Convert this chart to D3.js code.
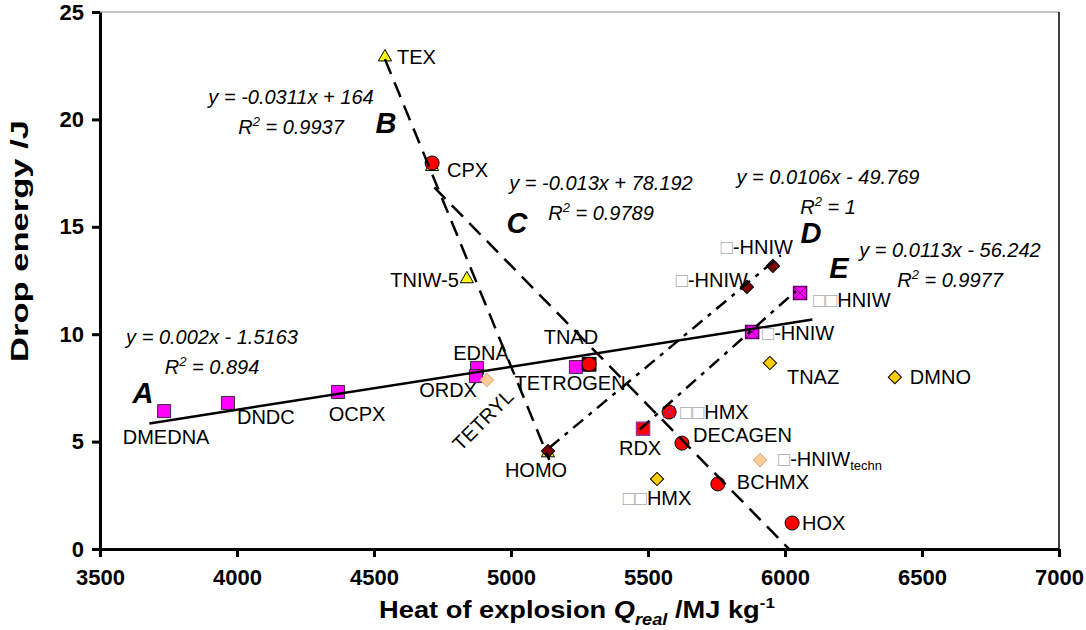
<!DOCTYPE html>
<html>
<head>
<meta charset="utf-8">
<script src="https://cdn.jsdelivr.net/npm/d3@7"></script>
<style>
body { margin: 0; background: #fff; }
svg { font-family: "Liberation Sans", Arial, sans-serif; }
</style>
</head>
<body>
<svg width="1086" height="630"></svg>
<script>
// ---- data (Q_real in MJ/kg, drop energy in J) ----
// A: magenta squares
var sqNames = ["DMEDNA", "DNDC", "OCPX", "EDNA", "ORDX", "TNAD"];
var sqQ = [3734, 3967, 4369, 4876, 4872, 5237];
var sqE = [6.42, 6.80, 7.31, 8.43, 8.05, 8.47];
// B: yellow triangles
var triNames = ["TEX", "CPX", "TNIW-5", "HOMO"];
var triQ = [4540, 4712, 4839, 5135];
var triE = [22.9, 17.8, 12.57, 4.47];
// C: red circles
var circNames = ["CPX", "TETROGEN", "□□HMX", "DECAGEN", "BCHMX", "HOX"];
var circQ = [4712, 5285, 5577, 5624, 5755, 6026];
var circE = [17.97, 8.6, 6.38, 4.93, 3.03, 1.21];
// D: dark red diamonds
var dmdNames = ["HOMO", "□-HNIW", "□-HNIW"];
var dmdQ = [5135, 5861, 5956];
var dmdE = [4.56, 12.2, 13.18];
// E: crossed squares
var xsqNames = ["RDX", "□□HMX", "□-HNIW", "□□HNIW"];
var xsqQ = [5482, 5577, 5880, 6055];
var xsqE = [5.6, 6.38, 10.1, 11.92];
// other compounds
var goldNames = ["□□HMX", "TNAZ", "DMNO"];
var goldQ = [5533, 5945, 6401];
var goldE = [3.26, 8.66, 8.0];
var tanNames = ["TETRYL", "□-HNIW_techn"];
var tanQ = [4912, 5909];
var tanE = [7.87, 4.14];
var darkQ = [5285];
var darkE = [8.6];

// trend lines y = m*x + b
var trendIds = ["A", "B", "C", "D", "E"];
var trendM = [0.002, -0.0311, -0.013, 0.0106, 0.0113];
var trendB = [-1.5163, 164, 78.192, -49.769, -56.242];
var trendFrom = [3680, 4540, 4720, 5140, 5470];
var trendTo = [6100, 5140, 6015, 5985, 6040];
var trendEq = ["y = 0.002x - 1.5163", "y = -0.0311x + 164", "y = -0.013x + 78.192",
               "y = 0.0106x - 49.769", "y = 0.0113x - 56.242"];
var trendR2 = ["0.894", "0.9937", "0.9789", "1", "0.9977"];

var xTicks = [3500, 4000, 4500, 5000, 5500, 6000, 6500, 7000];
var yTicks = [0, 5, 10, 15, 20, 25];

// ---- layout ----
var svg = d3.select("svg");
var x = d3.scaleLinear().domain([3500, 7000]).range([100, 1059]);
var y = d3.scaleLinear().domain([0, 25]).range([549, 12]);

var trendDash = ["none", "16,9", "16,9", "13,7,4,7", "13,7,4,7"];
// equation block centres and big letters (pixels)
var eqPos = [[212, 337, 143, 393], [291, 97, 386, 123], [601, 183, 517, 223],
             [828, 177, 811, 233], [950, 250, 839, 268]];

// label offsets from the marker: dx, dy, anchor, rotation
var labelPos = {
  "sq0": [2, 26, "middle"], "sq1": [9, 14, "start"], "sq2": [19, 22, "middle"],
  "sq3": [4, -15, "middle"], "sq4": [1, 14, "end"], "sq5": [-5, -30, "middle"],
  "tri0": [12, 0, "start"], "tri2": [-8, 1, "end"],
  "circ0": [15, 7, "start"], "circ1": [-19, 19, "middle"], "circ2": [11, 0, "start"],
  "circ3": [11, -8, "start"], "circ4": [19, -2, "start"], "circ5": [10, 0, "start"],
  "dmd0": [-12, 19, "middle"], "dmd1": [1, -7, "end"], "dmd2": [20, -19, "end"],
  "xsq0": [-3, 19, "middle"], "xsq2": [10, 1, "start"], "xsq3": [13, 7, "start"],
  "gold0": [0, 19, "middle"], "gold1": [17, 14, "start"], "gold2": [15, 0, "start"],
  "tan0": [-4, 40, "middle", -45], "tan1": [18, -1, "start"]
};

// frame
svg.append("line").attr("x1", 100).attr("x2", 1059).attr("y1", 12).attr("y2", 12)
    .attr("stroke", "#888").attr("stroke-width", 1);
svg.append("line").attr("x1", 1059).attr("x2", 1059).attr("y1", 12).attr("y2", 549)
    .attr("stroke", "#000").attr("stroke-width", 1.5);

// axes
var gx = svg.append("g").attr("transform", "translate(0,549)")
    .call(d3.axisBottom(x).tickValues(xTicks).tickFormat(d3.format("d"))
        .tickSize(8).tickSizeOuter(0).tickPadding(12));
var gy = svg.append("g").attr("transform", "translate(100,0)")
    .call(d3.axisLeft(y).tickValues(yTicks).tickSize(8).tickSizeOuter(0).tickPadding(8));
[gx, gy].forEach(function (g) {
  g.select(".domain").attr("stroke-width", 3);
  g.selectAll(".tick line").attr("stroke-width", 3);
  g.selectAll(".tick text").attr("font-size", 22).attr("font-weight", "bold")
      .attr("font-family", "'Liberation Sans', Arial, sans-serif").attr("fill", "#000");
});

// markers
var sym = d3.symbol();
function drawPoints(qs, es, shape, size, fill, stroke, sw, rot) {
  svg.append("g").selectAll("path")
    .data(qs)
    .enter().append("path")
      .attr("d", sym.type(shape).size(size)())
      .attr("transform", function (d, i) {
        return "translate(" + x(d) + "," + y(es[i]) + ")" + (rot ? " rotate(" + rot + ")" : "");
      })
      .attr("fill", function (d, i) { return Array.isArray(fill) ? fill[i] : fill; })
      .attr("stroke", function (d, i) { return Array.isArray(stroke) ? stroke[i] : stroke; })
      .attr("stroke-width", sw);
}

drawPoints(sqQ, sqE, d3.symbolSquare, 170, "#ff00ff", "#333", 1);
drawPoints(triQ, triE, d3.symbolTriangle, 75, "#ffff00", "#000", 1);
drawPoints(darkQ, darkE, d3.symbolSquare, 190, "#330033", "#000", 1);
drawPoints(circQ, circE, d3.symbolCircle, 155, "#ff0000", "#000", 1);
drawPoints(dmdQ, dmdE, d3.symbolSquare, 88, "#800000", "#000", 1, 45);
drawPoints(goldQ, goldE, d3.symbolSquare, 88, "#ffcc00", "#000", 1, 45);
drawPoints(tanQ, tanE, d3.symbolSquare, 88, "#ffcc99", "#e0b080", 1, 45);
drawPoints(xsqQ, xsqE, d3.symbolSquare, 170,
    ["#ff0000", "none", "#ff00ff", "#ff00ff"], ["#993399", "none", "#660066", "#660066"], 1.5);
// the cross inside the E markers
svg.append("g").selectAll("path")
  .data(xsqQ.slice(1))
  .enter().append("path")
    .attr("d", "M-6,-6L6,6M-6,6L6,-6")
    .attr("transform", function (d, i) { return "translate(" + x(d) + "," + y(xsqE[i + 1]) + ")"; })
    .attr("stroke", function (d, i) { return i === 0 ? "#993399" : "#660066"; })
    .attr("stroke-width", 1)
    .attr("fill", "none");

// trend lines
var line = d3.line().x(function (d) { return x(d[0]); }).y(function (d) { return y(d[1]); });
trendIds.forEach(function (id, i) {
  var pts = [trendFrom[i], trendTo[i]].map(function (q) { return [q, trendM[i] * q + trendB[i]]; });
  svg.append("path")
      .attr("d", line(pts))
      .attr("fill", "none")
      .attr("stroke", "#000")
      .attr("stroke-width", 2.5)
      .attr("stroke-dasharray", trendDash[i]);
});

// equations and series letters
trendIds.forEach(function (id, i) {
  var p = eqPos[i];
  svg.append("text").attr("x", p[0]).attr("y", p[1]).attr("dy", "0.35em")
      .attr("text-anchor", "middle").attr("font-size", 20).attr("font-style", "italic")
      .text(trendEq[i]);
  var r = svg.append("text").attr("x", p[0]).attr("y", p[1] + 30).attr("dy", "0.35em")
      .attr("text-anchor", "middle").attr("font-size", 20).attr("font-style", "italic");
  r.append("tspan").text("R");
  r.append("tspan").attr("font-size", 13).attr("dy", -8).text("2");
  r.append("tspan").attr("dy", 8).text("  = " + trendR2[i]);
  svg.append("text").attr("x", p[2]).attr("y", p[3]).attr("dy", "0.35em")
      .attr("text-anchor", "middle").attr("font-size", 29).attr("font-weight", "bold")
      .attr("font-style", "italic").text(id);
});

// point labels: □ is the glyph the source font lacked, _ starts a subscript
function richText(sel, str) {
  var parts = str.split("_");
  (parts[0].match(/□+|[^□]+/g) || []).forEach(function (run) {
    var t = sel.append("tspan").text(run);
    if (run[0] === "□") t.attr("fill", "#aaa");
  });
  if (parts[1]) sel.append("tspan").attr("font-size", 13).attr("dy", 4).text(parts[1]);
}
var groups = [["sq", sqNames, sqQ, sqE], ["tri", triNames, triQ, triE],
              ["circ", circNames, circQ, circE], ["dmd", dmdNames, dmdQ, dmdE],
              ["xsq", xsqNames, xsqQ, xsqE], ["gold", goldNames, goldQ, goldE],
              ["tan", tanNames, tanQ, tanE]];
groups.forEach(function (g) {
  g[1].forEach(function (name, i) {
    var lp = labelPos[g[0] + i];
    if (!lp) return;
    var px = x(g[2][i]) + lp[0], py = y(g[3][i]) + lp[1];
    var t = svg.append("text")
        .attr("x", px).attr("y", py).attr("dy", "0.35em")
        .attr("text-anchor", lp[2]).attr("font-size", 20);
    if (lp[3]) t.attr("transform", "rotate(" + lp[3] + "," + px + "," + py + ")");
    richText(t, name);
  });
});

// axis titles
var xt = svg.append("text").attr("x", 0).attr("y", 0).attr("dy", "0.35em")
    .attr("text-anchor", "middle").attr("font-size", 24).attr("font-weight", "bold");
xt.append("tspan").text("Heat of explosion ");
xt.append("tspan").attr("font-style", "italic").text("Q");
xt.append("tspan").attr("font-style", "italic").attr("font-size", 16).attr("dy", 7).text("real");
xt.append("tspan").attr("dy", -7).text(" /MJ kg");
xt.append("tspan").attr("font-size", 15).attr("dy", -10).text("-1");
var xw = xt.node().getBBox().width;
xt.attr("transform", "translate(577,610) scale(" + (396 / xw) + ",1)");

var yt = svg.append("text").attr("x", 0).attr("y", 0).attr("dy", "0.35em")
    .attr("text-anchor", "middle").attr("font-size", 24).attr("font-weight", "bold")
    .text("Drop energy /J");
var yw = yt.node().getBBox().width;
yt.attr("transform", "translate(20,241) rotate(-90) scale(" + (242 / yw) + ",1)");
</script>
</body>
</html>
